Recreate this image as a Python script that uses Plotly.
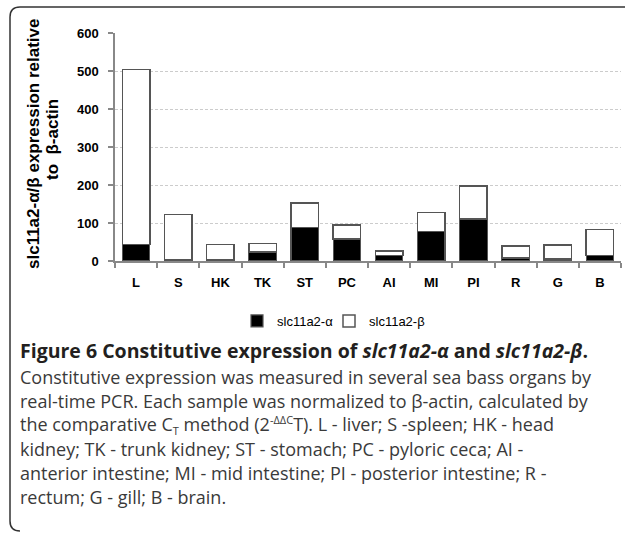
import plotly.graph_objects as go

categories = ["L", "S", "HK", "TK", "ST", "PC", "AI", "MI", "PI", "R", "G", "B"]
alpha_vals = [44, 2, 2, 24, 88, 58, 14, 77, 110, 8, 5, 14]
beta_vals = [460, 120, 41, 22, 65, 37, 12, 51, 87, 31, 37, 69]
y_ticks = [0, 100, 200, 300, 400, 500, 600]

W, H = 625, 533
ML, MR, MT, MB = 115, 4, 33, 272
PW, PH = W - ML - MR, H - MT - MB


def px(x):
    return (x - ML) / PW


def py(y):
    return (H - MB - y) / PH


fig = go.Figure()
fig.add_trace(go.Bar(
    x=categories, y=alpha_vals, name="slc11a2-α", legend="legend",
    marker=dict(color="black", line=dict(color="#555555", width=1.2)),
))
fig.add_trace(go.Bar(
    x=categories, y=beta_vals, name="slc11a2-β", legend="legend2",
    marker=dict(color="white", line=dict(color="#555555", width=1.5)),
))

axis_font = dict(family="Arial, Liberation Sans", size=13, color="black", weight="bold")
leg_font = dict(family="Arial, Liberation Sans", size=13, color="black")

fig.update_layout(
    width=W, height=H,
    margin=dict(l=ML, r=MR, t=MT, b=MB),
    paper_bgcolor="white", plot_bgcolor="white",
    barmode="stack", bargap=0.35,
    showlegend=True,
    legend=dict(orientation="h", x=px(237), xanchor="left", y=py(321), yanchor="middle",
                font=leg_font, itemwidth=30, bgcolor="rgba(0,0,0,0)"),
    legend2=dict(orientation="h", x=px(329), xanchor="left", y=py(321), yanchor="middle",
                 font=leg_font, itemwidth=30, bgcolor="rgba(0,0,0,0)"),
    font=dict(family="Arial, Liberation Sans"),
)

fig.update_xaxes(
    showline=True, linecolor="#888888", linewidth=1.5,
    ticks="outside", tickson="boundaries", ticklen=5, tickcolor="#888888", tickwidth=1.5,
    tickfont=axis_font, ticklabelstandoff=9, showgrid=False,
)
fig.update_yaxes(
    range=[0, 600], tickvals=y_ticks,
    showline=True, linecolor="#888888", linewidth=1.5,
    ticks="outside", ticklen=5, tickcolor="#888888", tickwidth=1.5,
    tickfont=axis_font, ticklabelstandoff=7,
    showgrid=True, gridcolor="#cccccc", griddash="3px,2px", gridwidth=1,
    zeroline=False,
)

title_font = dict(family="Arial, Liberation Sans", size=17, color="black", weight="bold")
fig.add_annotation(
    xref="paper", yref="paper", x=px(33), y=py(144), textangle=-90,
    text="slc11a2-α/β expression relative",
    showarrow=False, xanchor="center", yanchor="middle", font=title_font,
)
fig.add_annotation(
    xref="paper", yref="paper", x=px(52), y=py(140), textangle=-90,
    text="to  β-actin",
    showarrow=False, xanchor="center", yanchor="middle", font=title_font,
)

# Frame
path = (f"M {px(625)} {py(7)} L {px(20)} {py(7)} "
        f"Q {px(10)} {py(7)} {px(10)} {py(17)} "
        f"L {px(10)} {py(521)} Q {px(10)} {py(531)} {px(20)} {py(531)}")
fig.add_shape(type="path", xref="paper", yref="paper", path=path,
              line=dict(color="#333333", width=1.5))

cap_font = dict(family="Open Sans", size=18, color="#3a3a3a")
fig.add_annotation(
    xref="paper", yref="paper", x=px(19), y=py(350), xanchor="left", yanchor="middle",
    showarrow=False, borderpad=0,
    text="<b>Figure 6 Constitutive expression of <i>slc11a2-α</i> and <i>slc11a2-β</i>.</b>",
    font=dict(family="Open Sans", size=19.5, color="#231f20"),
)
small = "<span style='font-size:11px'>{}</span>"
caption_lines = [
    "Constitutive expression was measured in several sea bass organs by",
    "real-time PCR. Each sample was normalized to β-actin, calculated by",
    "the comparative C<sub>" + small.format("T") + "</sub> method (2<sup>"
    + small.format("-ΔΔC") + "</sup>T). L - liver; S -spleen; HK - head",
    "kidney; TK - trunk kidney; ST - stomach; PC - pyloric ceca; AI -",
    "anterior intestine; MI - mid intestine; PI - posterior intestine; R -",
    "rectum; G - gill; B - brain.",
]
for i, line in enumerate(caption_lines):
    fig.add_annotation(
        xref="paper", yref="paper", x=px(19), y=py(377 + 24 * i), xanchor="left", yanchor="middle",
        showarrow=False, borderpad=0, height=22, text=line, font=cap_font,
    )

fig.write_html("out.html")
